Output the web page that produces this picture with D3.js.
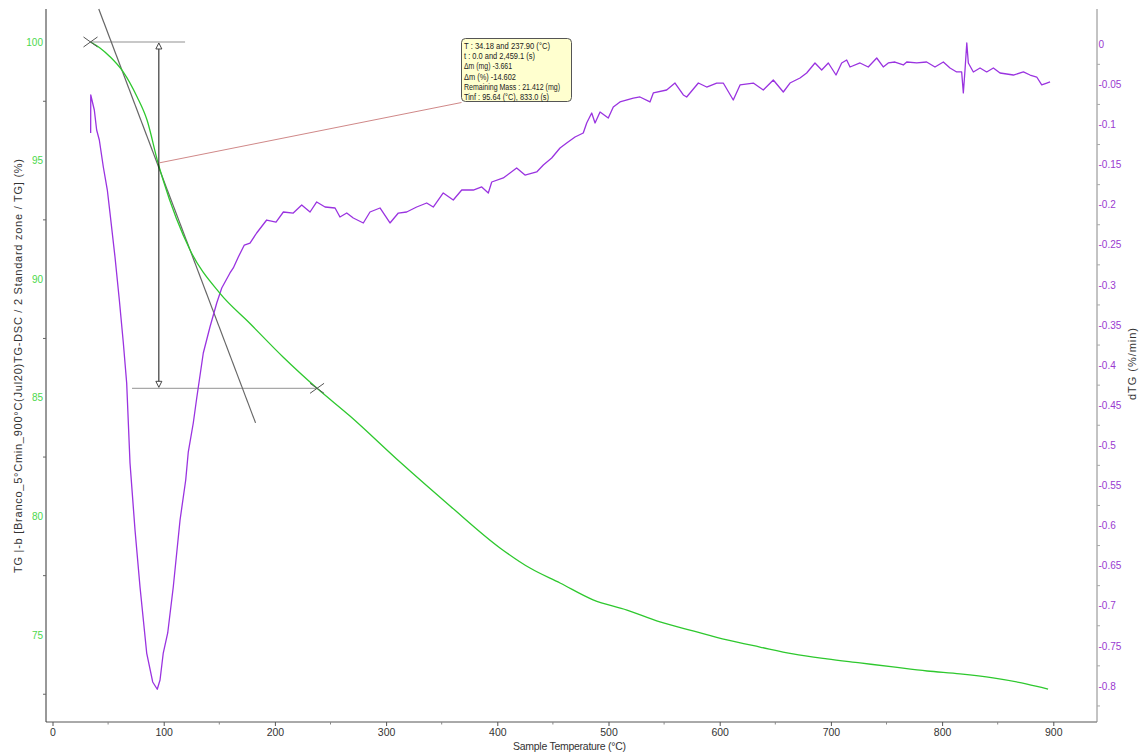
<!DOCTYPE html>
<html>
<head>
<meta charset="utf-8">
<script src="https://cdn.jsdelivr.net/npm/d3@7/dist/d3.min.js"></script>
<style>
  html, body { margin: 0; padding: 0; background: #fff; }
  svg { display: block; font-family: "Liberation Sans", Arial, sans-serif; }
</style>
</head>
<body>
<svg id="chart" width="1141" height="753"></svg>
<script>
// TG mass-loss curve (sample temperature °C, TG %)
const tgTemp = [34.2, 42.7, 51.7, 63.4, 76.0, 85.0, 94.9, 99.4, 123.7, 150.6, 177.6, 207.3, 237.9, 267.5, 312.5, 357.5, 402.4, 429.4, 456.4, 486.1, 516.6, 546.3, 576.0, 606.6, 636.2, 665.9, 696.5, 726.2, 755.9, 786.5, 816.1, 845.8, 876.4, 895.3];
const tgValue = [100.0, 99.75, 99.38, 98.75, 97.69, 96.71, 94.90, 94.19, 91.23, 89.40, 88.13, 86.72, 85.40, 84.23, 82.29, 80.44, 78.67, 77.82, 77.19, 76.48, 76.05, 75.55, 75.17, 74.79, 74.49, 74.20, 73.99, 73.82, 73.65, 73.48, 73.36, 73.19, 72.93, 72.72];

// Derivative curve dTG (%/min)
const dtgTemp = [34.3, 34.4, 37.6, 39.7, 42.1, 45.7, 49.3, 51.7, 56.2, 60.1, 63.7, 66.7, 69.7, 74.2, 78.7, 84.7, 90.1, 94.2, 96.7, 99.6, 103.6, 108.6, 114.7, 119.8, 122.1, 126.6, 129.7, 135.6, 141.6, 147.7, 152.2, 159.6, 162.6, 167.1, 172.5, 177.6, 183.6, 192.6, 201.0, 207.6, 216.5, 224.1, 231.6, 237.6, 245.1, 254.1, 258.5, 264.6, 270.5, 279.5, 285.5, 294.5, 303.5, 311.0, 318.5, 327.5, 336.5, 342.4, 351.4, 360.4, 368.0, 378.4, 386.0, 391.9, 395.0, 405.4, 417.4, 424.9, 435.4, 441.4, 448.9, 456.4, 462.4, 469.9, 477.3, 480.4, 484.9, 487.9, 492.4, 499.8, 504.3, 510.3, 522.3, 528.3, 537.3, 540.3, 552.3, 559.8, 567.3, 570.3, 580.8, 588.3, 597.3, 603.2, 612.2, 618.3, 630.2, 639.2, 648.2, 657.2, 663.2, 672.2, 678.2, 685.7, 691.7, 697.7, 704.6, 709.7, 714.2, 717.2, 726.2, 733.6, 741.2, 747.1, 751.6, 757.6, 765.1, 768.2, 777.2, 786.1, 793.6, 801.1, 807.1, 813.1, 817.6, 819.1, 820.6, 822.2, 823.6, 828.1, 834.1, 840.1, 846.1, 852.1, 864.1, 873.1, 879.1, 885.1, 889.6, 894.1, 897.1];
const dtgValue = [-0.1106, -0.0632, -0.0819, -0.1069, -0.1193, -0.1530, -0.1817, -0.2104, -0.2652, -0.3189, -0.3725, -0.4223, -0.5221, -0.6056, -0.6767, -0.7590, -0.7951, -0.8042, -0.7926, -0.7590, -0.7340, -0.6767, -0.5931, -0.5433, -0.5084, -0.4722, -0.4410, -0.3849, -0.3525, -0.3226, -0.3039, -0.2851, -0.2789, -0.2652, -0.2503, -0.2478, -0.2353, -0.2191, -0.2216, -0.2091, -0.2104, -0.2004, -0.2091, -0.1966, -0.2029, -0.2041, -0.2153, -0.2104, -0.2166, -0.2228, -0.2091, -0.2041, -0.2228, -0.2104, -0.2091, -0.2029, -0.1979, -0.2029, -0.1854, -0.1941, -0.1817, -0.1817, -0.1779, -0.1854, -0.1717, -0.1667, -0.1542, -0.1630, -0.1592, -0.1505, -0.1418, -0.1293, -0.1231, -0.1156, -0.1106, -0.0981, -0.0857, -0.0981, -0.0844, -0.0919, -0.0782, -0.0719, -0.0670, -0.0657, -0.0719, -0.0607, -0.0570, -0.0483, -0.0632, -0.0657, -0.0483, -0.0533, -0.0483, -0.0483, -0.0695, -0.0507, -0.0483, -0.0570, -0.0445, -0.0595, -0.0483, -0.0420, -0.0358, -0.0233, -0.0320, -0.0233, -0.0383, -0.0233, -0.0196, -0.0283, -0.0233, -0.0283, -0.0171, -0.0283, -0.0233, -0.0221, -0.0258, -0.0221, -0.0233, -0.0221, -0.0283, -0.0221, -0.0296, -0.0345, -0.0345, -0.0607, -0.0320, 0.0016, -0.0233, -0.0345, -0.0296, -0.0345, -0.0296, -0.0358, -0.0383, -0.0345, -0.0383, -0.0408, -0.0507, -0.0483, -0.0470];

// Axis ticks
const xTicks = [0, 100, 200, 300, 400, 500, 600, 700, 800, 900];
const tgTicks = [100, 95, 90, 85, 80, 75];
const dtgTicks = [0, -0.05, -0.1, -0.15, -0.2, -0.25, -0.3, -0.35, -0.4, -0.45, -0.5, -0.55, -0.6, -0.65, -0.7, -0.75, -0.8];

// Step evaluation results
const stepStartT = 34.18, stepEndT = 237.90;
const stepStartTG = 100, stepEndTG = 100 - 14.602;
const tinfT = 95.64, tinfTG = 94.9;
const tangentT = [41.6, 182.6];
const tangentTG = [101.39, 83.94];
const resultLines = [
  "T : 34.18 and 237.90 (°C)",
  "t : 0.0 and 2,459.1 (s)",
  "Δm (mg) -3.661",
  "Δm (%) -14.602",
  "Remaining Mass : 21.412 (mg)",
  "Tinf : 95.64 (°C), 833.0 (s)"
];

(function draw() {
  const svg = d3.select("#chart");
  const pLeft = 46, pRight = 1097, pTop = 9, pBottom = 722;

  const x = d3.scaleLinear().domain([-5.85, 939.3]).range([pLeft, pRight]);
  const yTG = d3.scaleLinear().domain([71.33, 101.39]).range([pBottom, pTop]);
  const yDTG = d3.scaleLinear().domain([-0.845, 0.044]).range([pBottom, pTop]);

  const greenLine = "#2ec82e", greenText = "#4cd84c";
  const purpleLine = "#9a33e0", purpleText = "#9a3ad0";
  const font = "Liberation Sans, Arial, sans-serif";

  // Bottom axis
  const gx = svg.append("g").attr("transform", `translate(0,${pBottom})`)
    .call(d3.axisBottom(x).tickValues(xTicks).tickSize(4).tickPadding(3).tickFormat(d3.format("d")));
  gx.select(".domain").attr("stroke", "#555").attr("d", `M${pLeft},0H${pRight}`);
  gx.selectAll(".tick line").attr("stroke", "#555");
  gx.selectAll(".tick text").attr("fill", "#333").attr("font-size", 10.5).attr("font-family", font);
  svg.append("g").selectAll("line").data(d3.range(50, 950, 100)).join("line")
    .attr("x1", d => x(d)).attr("x2", d => x(d)).attr("y1", pBottom).attr("y2", pBottom + 2.5)
    .attr("stroke", "#888");

  // Left TG axis
  const gl = svg.append("g").attr("transform", `translate(${pLeft},0)`)
    .call(d3.axisLeft(yTG).tickValues(tgTicks).tickSize(0).tickPadding(3));
  gl.select(".domain").attr("stroke", "#333").attr("d", `M0,${pTop}V${pBottom}`);
  gl.selectAll(".tick text").attr("fill", greenText).attr("font-size", 10).attr("font-family", font);
  svg.append("g").selectAll("line").data([97.5, 92.5, 87.5, 82.5, 77.5, 72.5]).join("line")
    .attr("x1", pLeft - 3).attr("x2", pLeft).attr("y1", d => yTG(d)).attr("y2", d => yTG(d))
    .attr("stroke", "#666");

  // Right dTG axis
  const gr = svg.append("g").attr("transform", `translate(${pRight},0)`)
    .call(d3.axisRight(yDTG).tickValues(dtgTicks).tickSize(0).tickPadding(1.5)
      .tickFormat(d => d === 0 ? "0" : String(d)));
  gr.select(".domain").attr("stroke", "#888").attr("d", `M0,${pTop}V${pBottom}`);
  gr.selectAll(".tick text").attr("fill", purpleText).attr("font-size", 10).attr("font-family", font);
  svg.append("g").selectAll("line").data(d3.range(-0.025, -0.84, -0.05)).join("line")
    .attr("x1", pRight).attr("x2", pRight + 3).attr("y1", d => yDTG(d)).attr("y2", d => yDTG(d))
    .attr("stroke", "#aaa");

  // Axis titles
  svg.append("text").attr("x", 569.5).attr("y", 749.5).attr("text-anchor", "middle")
    .attr("font-size", 10.5).attr("fill", "#333").attr("textLength", 113)
    .text("Sample Temperature (°C)");
  svg.append("text").attr("transform", "translate(18,366) rotate(-90)")
    .attr("text-anchor", "middle").attr("dominant-baseline", "central")
    .attr("font-size", 11).attr("fill", "#333").attr("textLength", 414).attr("lengthAdjust", "spacing")
    .text("TG |-b [Branco_5°Cmin_900°C(Jul20)TG-DSC / 2 Standard zone / TG] (%)");
  svg.append("text").attr("transform", "translate(1132,364) rotate(-90)")
    .attr("text-anchor", "middle").attr("dominant-baseline", "central")
    .attr("font-size", 11).attr("fill", "#333").attr("textLength", 72).attr("lengthAdjust", "spacing")
    .text("dTG (%/min)");

  // Step baselines
  svg.append("line").attr("x1", x(stepStartT)).attr("x2", x(119.2))
    .attr("y1", yTG(stepStartTG)).attr("y2", yTG(stepStartTG))
    .attr("stroke", "#c8c8c8").attr("stroke-width", 2);
  svg.append("line").attr("x1", x(71.5)).attr("x2", x(stepEndT))
    .attr("y1", yTG(stepEndTG)).attr("y2", yTG(stepEndTG))
    .attr("stroke", "#a8a8a8").attr("stroke-width", 1.2);

  // Tangent at the inflection point
  svg.append("line").attr("x1", x(tangentT[0])).attr("y1", yTG(tangentTG[0]))
    .attr("x2", x(tangentT[1])).attr("y2", yTG(tangentTG[1]))
    .attr("stroke", "#666").attr("stroke-width", 1.2);

  // Curves
  svg.append("clipPath").attr("id", "plot").append("rect")
    .attr("x", pLeft).attr("y", pTop).attr("width", pRight - pLeft).attr("height", pBottom - pTop);

  svg.append("path").datum(dtgTemp.map((t, i) => [t, dtgValue[i]]))
    .attr("clip-path", "url(#plot)")
    .attr("fill", "none").attr("stroke", purpleLine).attr("stroke-width", 1.3)
    .attr("stroke-linejoin", "round")
    .attr("d", d3.line().x(d => x(d[0])).y(d => yDTG(d[1])));

  svg.append("path").datum(tgTemp.map((t, i) => [t, tgValue[i]]))
    .attr("clip-path", "url(#plot)")
    .attr("fill", "none").attr("stroke", greenLine).attr("stroke-width", 1.3)
    .attr("d", d3.line().curve(d3.curveMonotoneX).x(d => x(d[0])).y(d => yTG(d[1])));

  // Mass-loss double arrow at Tinf
  const ax = x(tinfT), ay1 = yTG(stepStartTG), ay2 = yTG(stepEndTG);
  svg.append("line").attr("x1", ax).attr("x2", ax).attr("y1", ay1 + 6).attr("y2", ay2 - 6)
    .attr("stroke", "#111").attr("stroke-width", 1);
  svg.append("path").attr("d", `M${ax},${ay1 + 1}L${ax - 3},${ay1 + 7}L${ax + 3},${ay1 + 7}Z`)
    .attr("fill", "#fff").attr("stroke", "#333").attr("stroke-width", 0.9);
  svg.append("path").attr("d", `M${ax},${ay2 - 1}L${ax - 3},${ay2 - 7}L${ax + 3},${ay2 - 7}Z`)
    .attr("fill", "#fff").attr("stroke", "#333").attr("stroke-width", 0.9);

  // Step limit markers
  [[stepStartT, stepStartTG], [stepEndT, stepEndTG]].forEach(([t, v]) => {
    const cx = x(t), cy = yTG(v);
    svg.append("path").attr("d", `M${cx - 7},${cy - 5}L${cx + 7},${cy + 5}M${cx - 7},${cy + 5}L${cx + 7},${cy - 5}`)
      .attr("stroke", "#555").attr("stroke-width", 1);
  });

  // Result callout
  const box = { x: 461.5, y: 38.5, w: 110, h: 63 };
  svg.append("line").attr("x1", x(tinfT)).attr("y1", yTG(tinfTG))
    .attr("x2", box.x).attr("y2", box.y + box.h + 1)
    .attr("stroke", "#d08888").attr("stroke-width", 1);
  svg.append("rect").attr("x", box.x).attr("y", box.y).attr("width", box.w).attr("height", box.h)
    .attr("rx", 4).attr("fill", "#ffffcf").attr("stroke", "#555").attr("stroke-width", 1);
  const lineWidths = [86, 71, 48, 52, 96, 85];
  svg.append("g").selectAll("text").data(resultLines).join("text")
    .attr("x", box.x + 2.5).attr("y", (d, i) => box.y + 10.5 + i * 10.2)
    .attr("font-size", 8.5).attr("fill", "#222").attr("font-family", font)
    .attr("textLength", (d, i) => lineWidths[i]).attr("lengthAdjust", "spacingAndGlyphs")
    .text(d => d);
})();
</script>
</body>
</html>
